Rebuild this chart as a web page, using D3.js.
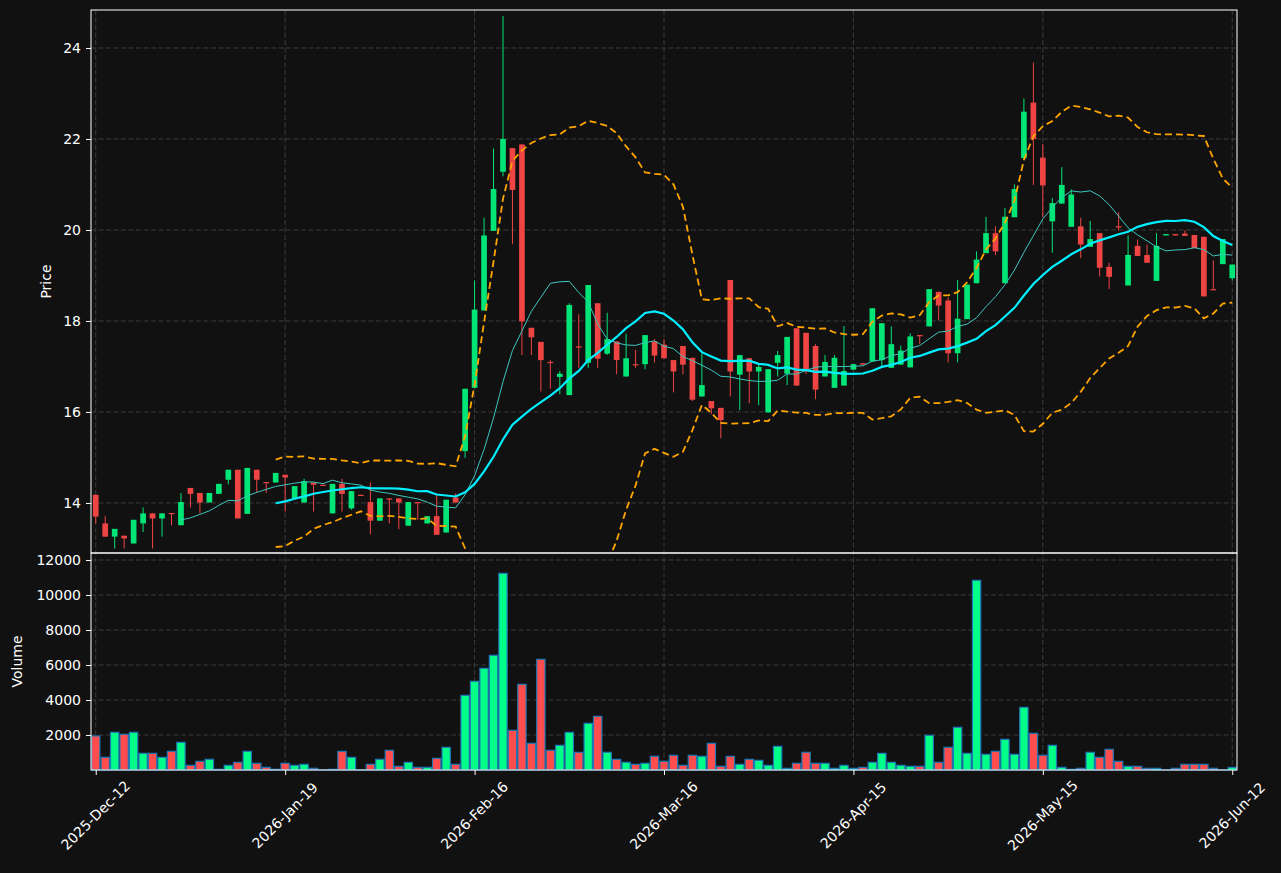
<!DOCTYPE html>
<html>
<head>
<meta charset="utf-8">
<script src="https://cdn.jsdelivr.net/npm/d3@7"></script>
<style>
  html, body { margin: 0; padding: 0; background: #111111; }
  svg { display: block; }
  text { font-family: "DejaVu Sans", sans-serif; }
</style>
</head>
<body>
<script>

// tick labels every 20 sessions
const tickIdx = [0, 20, 40, 60, 80, 100, 120];
const tickLabels = ["2025-Dec-12", "2026-Jan-19", "2026-Feb-16", "2026-Mar-16", "2026-Apr-15", "2026-May-15", "2026-Jun-12"];

const opens = [
  14.18, 13.55, 13.26, 13.28, 13.11, 13.55, 13.77, 13.66, 13.78, 13.51,
  14.33, 14.22, 14.01, 14.20, 14.51, 14.73, 13.76, 14.73, 14.46, 14.45,
  14.62, 14.10, 14.01, 14.45, 14.40, 13.77, 14.42, 13.88, 14.18, 14.02,
  13.61, 14.10, 14.10, 13.50, 14.02, 13.55, 13.71, 13.35, 14.12, 15.14,
  16.53, 18.23, 19.98, 21.28, 21.80, 21.88, 17.85, 17.54, 17.10, 16.77,
  16.37, 17.44, 17.08, 18.39, 17.28, 17.55, 16.78, 17.05, 17.05, 17.55,
  17.48, 17.14, 17.45, 17.19, 16.34, 16.24, 16.09, 18.90, 16.82, 17.18,
  16.89, 15.99, 17.08, 16.84, 17.84, 17.74, 17.45, 16.78, 16.53, 16.58,
  16.93, 17.07, 17.11, 17.14, 16.97, 17.04, 16.98, 17.69, 17.88, 18.64,
  18.45, 17.29, 18.04, 18.83, 19.49, 19.93, 18.83, 20.28, 21.58, 22.80,
  21.59, 20.19, 20.58, 20.07, 20.08, 19.63, 19.93, 19.19, 20.08, 18.78,
  19.65, 19.45, 18.88, 19.88, 19.91, 19.92, 19.89, 19.85, 18.70, 19.25,
  18.94
];
const highs = [
  14.18, 13.71, 13.43, 13.28, 13.63, 13.90, 13.77, 13.77, 13.78, 14.22,
  14.33, 14.22, 14.22, 14.42, 14.73, 14.73, 14.77, 14.73, 14.46, 14.66,
  14.62, 14.37, 14.53, 14.45, 14.40, 14.42, 14.53, 14.26, 14.18, 14.45,
  14.10, 14.10, 14.10, 14.02, 14.02, 13.71, 14.18, 14.07, 14.21, 16.51,
  18.89, 20.27, 21.79, 24.70, 21.80, 21.88, 17.85, 17.54, 17.14, 16.90,
  18.39, 18.15, 18.79, 18.39, 18.18, 17.55, 17.72, 17.37, 17.69, 17.60,
  17.60, 17.14, 17.45, 17.19, 17.28, 16.24, 16.09, 18.90, 17.25, 17.18,
  17.05, 16.94, 17.34, 17.65, 17.84, 17.74, 17.49, 17.25, 17.25, 17.89,
  17.05, 17.07, 18.28, 17.95, 17.88, 17.46, 17.73, 17.69, 18.70, 18.64,
  18.52, 18.90, 18.80, 19.53, 20.29, 20.08, 20.48, 21.00, 22.89, 23.68,
  21.89, 20.70, 21.38, 20.89, 20.27, 20.20, 19.93, 19.28, 20.39, 19.88,
  19.79, 19.68, 19.93, 19.91, 19.91, 19.99, 19.89, 19.85, 19.33, 19.80,
  19.24
];
const lows = [
  13.55, 13.26, 13.00, 13.00, 13.11, 13.36, 13.00, 13.26, 13.51, 13.51,
  13.90, 13.77, 14.01, 14.20, 14.41, 13.66, 13.76, 14.22, 14.22, 14.45,
  13.81, 14.10, 14.01, 13.81, 14.39, 13.77, 13.81, 13.85, 14.17, 13.31,
  13.61, 13.55, 13.42, 13.50, 13.63, 13.55, 13.30, 13.35, 14.01, 14.99,
  16.53, 18.23, 19.98, 21.18, 19.69, 17.25, 17.25, 16.45, 16.51, 16.39,
  16.37, 16.97, 16.97, 16.97, 17.25, 16.83, 16.78, 16.97, 16.94, 17.09,
  17.18, 16.43, 16.83, 16.24, 16.34, 15.95, 15.42, 16.34, 16.04, 16.19,
  16.15, 15.99, 16.78, 16.59, 16.58, 16.83, 16.28, 16.78, 16.53, 16.58,
  16.93, 17.04, 17.11, 17.01, 16.97, 17.04, 16.98, 17.49, 17.88, 18.01,
  17.09, 17.09, 18.04, 18.83, 19.49, 19.45, 18.83, 20.28, 21.58, 20.99,
  20.28, 19.50, 20.58, 20.07, 19.38, 19.63, 18.98, 18.70, 19.99, 18.78,
  19.43, 19.28, 18.88, 19.88, 19.88, 19.87, 19.60, 18.54, 18.69, 19.25,
  18.89
];
const closes = [
  13.70, 13.26, 13.43, 13.22, 13.63, 13.77, 13.66, 13.77, 13.77, 14.02,
  14.20, 14.01, 14.22, 14.42, 14.73, 13.66, 14.77, 14.51, 14.45, 14.66,
  14.56, 14.37, 14.48, 14.40, 14.39, 14.42, 14.20, 14.26, 14.17, 13.61,
  14.10, 14.09, 14.01, 14.02, 14.01, 13.71, 13.30, 14.07, 14.01, 16.51,
  18.25, 19.88, 20.90, 22.00, 20.88, 17.99, 17.64, 17.14, 17.09, 16.84,
  18.35, 17.43, 18.79, 17.17, 17.60, 17.14, 17.18, 17.04, 17.69, 17.24,
  17.18, 16.89, 17.04, 16.27, 16.59, 16.08, 15.82, 16.89, 17.25, 16.89,
  16.99, 16.94, 17.25, 17.65, 16.58, 16.89, 16.49, 17.10, 17.19, 16.90,
  17.05, 17.04, 18.28, 17.95, 17.49, 17.35, 17.66, 17.68, 18.70, 18.34,
  17.29, 18.05, 18.80, 19.35, 19.93, 19.53, 20.29, 20.90, 22.60, 22.00,
  20.98, 20.59, 20.99, 20.78, 19.68, 19.80, 19.17, 18.97, 20.07, 19.45,
  19.43, 19.28, 19.65, 19.91, 19.88, 19.87, 19.60, 18.54, 18.69, 19.80,
  19.24
];
const volumes = [
  1943, 724, 2152, 2038, 2152, 952, 952, 724, 1067, 1581,
  267, 495, 610, 38, 267, 438, 1067, 381, 152, 40,
  381, 267, 324, 95, 10, 38, 1067, 724, 5, 324,
  610, 1124, 210, 438, 152, 152, 667, 1295, 324, 4267,
  5067, 5810, 6552, 11238, 2267, 4895, 1524, 6324, 1124, 1410,
  2152, 1010, 2667, 3067, 1010, 610, 438, 324, 381, 781,
  495, 838, 267, 838, 781, 1524, 210, 781, 324, 610,
  552, 267, 1352, 95, 381, 1010, 381, 381, 95, 267,
  95, 152, 438, 952, 438, 267, 210, 210, 1981, 438,
  1295, 2438, 952, 10838, 895, 1067, 1752, 895, 3581, 2095,
  838, 1410, 152, 38, 95, 1010, 724, 1181, 495, 210,
  210, 95, 95, 5, 95, 324, 324, 324, 95, 5,
  152
];

const priceTicks = [14, 16, 18, 20, 22, 24];
const volumeTicks = [2000, 4000, 6000, 8000, 10000, 12000];

const candles = opens.map(function (o, i) {
  return {i: i, o: o, h: highs[i], l: lows[i], c: closes[i], v: volumes[i]};
});

// rolling mean / std of closes (sample std like pandas)
function rolling(n, k) {
  return closes.map(function (d, i) {
    if (i < n - 1) return null;
    const win = closes.slice(i - n + 1, i + 1);
    const m = d3.mean(win);
    if (k === 0) return {i: i, v: m};
    return {i: i, v: m + k * d3.deviation(win)};
  }).filter(function (d) { return d !== null; });
}
const ma10 = rolling(10, 0);
const ma20 = rolling(20, 0);
const bbUp = rolling(20, 2);
const bbLo = rolling(20, -2);

const W = 1281, H = 873;
const left = 91, right = 1237, pTop = 10, pBot = 553, vBot = 770;

const svg = d3.select("body")
  .append("svg")
  .attr("width", W)
  .attr("height", H);

svg.append("rect").attr("width", W).attr("height", H).attr("fill", "#111111");

const x = d3.scaleLinear().domain([-0.5, 120.5]).range([left, right]);
const yP = d3.scaleLinear().domain([12.9, 24.835]).range([pBot, pTop]);
const yV = d3.scaleLinear().domain([0, 12400]).range([vBot, pBot]);
const step = x(1) - x(0);

const upCol = "#00e676", downCol = "#ef4444";
const vUp = "#00ff88", vDown = "#ff4d4d";
const gridCol = "#3c3c3c";

svg.append("clipPath").attr("id", "clipP")
  .append("rect").attr("x", left).attr("y", pTop).attr("width", right - left).attr("height", pBot - pTop);

// grid
const grid = svg.append("g").attr("stroke", gridCol).attr("stroke-dasharray", "5,2.5").attr("stroke-width", 1);
grid.selectAll("line.gx")
  .data(tickIdx)
  .enter().append("line")
  .attr("x1", function (d) { return x(d); })
  .attr("x2", function (d) { return x(d); })
  .attr("y1", pTop).attr("y2", vBot);
grid.selectAll("line.gp")
  .data(priceTicks)
  .enter().append("line")
  .attr("x1", left).attr("x2", right)
  .attr("y1", function (d) { return yP(d); })
  .attr("y2", function (d) { return yP(d); });
grid.selectAll("line.gv")
  .data(volumeTicks)
  .enter().append("line")
  .attr("x1", left).attr("x2", right)
  .attr("y1", function (d) { return yV(d); })
  .attr("y2", function (d) { return yV(d); });

// candles
const cg = svg.append("g").attr("clip-path", "url(#clipP)");
cg.selectAll("line.wick")
  .data(candles)
  .enter().append("line")
  .attr("class", "wick")
  .attr("x1", function (d) { return x(d.i); })
  .attr("x2", function (d) { return x(d.i); })
  .attr("y1", function (d) { return yP(d.h); })
  .attr("y2", function (d) { return yP(d.l); })
  .attr("stroke", function (d) { return d.c >= d.o ? upCol : downCol; })
  .attr("stroke-width", 1);
cg.selectAll("rect.body")
  .data(candles)
  .enter().append("rect")
  .attr("class", "body")
  .attr("x", function (d) { return x(d.i) - step * 0.3; })
  .attr("width", step * 0.6)
  .attr("y", function (d) { return yP(Math.max(d.o, d.c)); })
  .attr("height", function (d) { return Math.max(1.2, Math.abs(yP(d.o) - yP(d.c))); })
  .attr("fill", function (d) { return d.c >= d.o ? upCol : downCol; });

// indicator lines
const line = d3.line()
  .x(function (d) { return x(d.i); })
  .y(function (d) { return yP(d.v); });

const lg = svg.append("g").attr("clip-path", "url(#clipP)").attr("fill", "none");
lg.append("path").attr("d", line(ma10)).attr("stroke", "#3cc8c0").attr("stroke-width", 1);
lg.append("path").attr("d", line(ma20)).attr("stroke", "#00f0ff").attr("stroke-width", 2.2);
lg.append("path").attr("d", line(bbUp)).attr("stroke", "#ffa500").attr("stroke-width", 1.8).attr("stroke-dasharray", "7,4");
lg.append("path").attr("d", line(bbLo)).attr("stroke", "#ffa500").attr("stroke-width", 1.8).attr("stroke-dasharray", "7,4");

// volume bars
svg.append("g").selectAll("rect")
  .data(candles)
  .enter().append("rect")
  .attr("x", function (d) { return x(d.i) - step * 0.44; })
  .attr("width", step * 0.88)
  .attr("y", function (d) { return yV(d.v); })
  .attr("height", function (d) { return vBot - yV(d.v); })
  .attr("fill", function (d) { return d.c >= d.o ? vUp : vDown; })
  .attr("stroke", "#1f77b4")
  .attr("stroke-width", 1.2);

// frames
svg.append("rect").attr("x", left).attr("y", pTop).attr("width", right - left).attr("height", pBot - pTop)
  .attr("fill", "none").attr("stroke", "#ffffff").attr("stroke-width", 1);
svg.append("rect").attr("x", left).attr("y", pBot).attr("width", right - left).attr("height", vBot - pBot)
  .attr("fill", "none").attr("stroke", "#ffffff").attr("stroke-width", 1);

// axes
function styleAxis(g) {
  g.select(".domain").remove();
  g.selectAll(".tick line").attr("stroke", "#ffffff");
  g.selectAll(".tick text").attr("fill", "#ffffff").attr("font-size", 14)
    .attr("font-family", "DejaVu Sans, sans-serif");
}

svg.append("g")
  .attr("transform", `translate(${left}, 0)`)
  .call(d3.axisLeft(yP).tickValues(priceTicks).tickSize(5).tickPadding(5))
  .call(styleAxis);

svg.append("g")
  .attr("transform", `translate(${left}, 0)`)
  .call(d3.axisLeft(yV).tickValues(volumeTicks).tickSize(5).tickPadding(5).tickFormat(d3.format("d")))
  .call(styleAxis);

const xAxis = svg.append("g")
  .attr("transform", `translate(0, ${vBot})`)
  .call(d3.axisBottom(x).tickValues(tickIdx).tickSize(5)
    .tickFormat(function (d) { return tickLabels[tickIdx.indexOf(d)]; }))
  .call(styleAxis);
xAxis.selectAll(".tick text")
  .attr("text-anchor", "middle")
  .attr("dy", null)
  .attr("y", null)
  .attr("transform", "translate(0, 46) rotate(-45)")
  .attr("dominant-baseline", "middle");

svg.append("text")
  .attr("transform", `translate(51, ${(pTop + pBot) / 2}) rotate(-90)`)
  .attr("text-anchor", "middle")
  .attr("fill", "#ffffff")
  .attr("font-size", 14)
  .text("Price");

svg.append("text")
  .attr("transform", `translate(22, ${(pBot + vBot) / 2}) rotate(-90)`)
  .attr("text-anchor", "middle")
  .attr("fill", "#ffffff")
  .attr("font-size", 14)
  .text("Volume");

</script>
</body>
</html>
